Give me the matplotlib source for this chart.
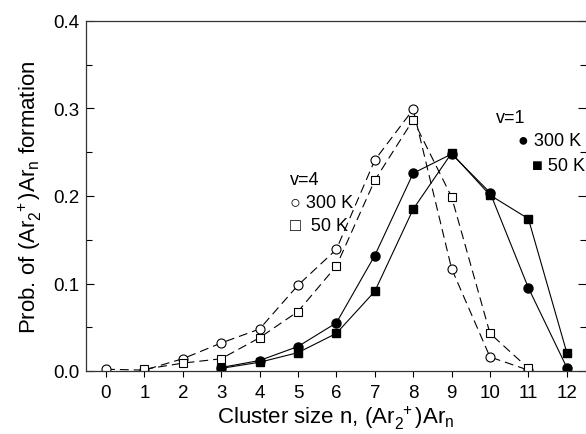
import matplotlib
matplotlib.use('Agg')
from matplotlib import pyplot as plt
from matplotlib.ticker import MultipleLocator

plt.rcParams['font.family'] = ['Liberation Sans', 'DejaVu Sans']
plt.rcParams['mathtext.fontset'] = 'custom'
plt.rcParams['mathtext.rm'] = 'Liberation Sans'

# v=4, 300 K (open circles)
n_v4_300 = [0, 1, 2, 3, 4, 5, 6, 7, 8, 9, 10, 11]
p_v4_300 = [0.002, 0.001, 0.014, 0.032, 0.048, 0.098, 0.139, 0.241, 0.299, 0.117, 0.016, 0.001]
# v=4, 50 K (open squares)
n_v4_50 = [1, 2, 3, 4, 5, 6, 7, 8, 9, 10, 11]
p_v4_50 = [0.002, 0.009, 0.014, 0.038, 0.068, 0.120, 0.218, 0.287, 0.199, 0.043, 0.003]
# v=1, 300 K (filled circles)
n_v1_300 = [3, 4, 5, 6, 7, 8, 9, 10, 11, 12]
p_v1_300 = [0.004, 0.012, 0.028, 0.055, 0.132, 0.226, 0.248, 0.204, 0.095, 0.004]
# v=1, 50 K (filled squares)
n_v1_50 = [3, 4, 5, 6, 7, 8, 9, 10, 11, 12]
p_v1_50 = [0.003, 0.010, 0.021, 0.043, 0.091, 0.185, 0.249, 0.201, 0.174, 0.021]

fig = plt.figure(figsize=(5.86, 4.35), dpi=100)
ax = fig.add_axes([86/586, 1-372/435, 1-86/586, (372-22)/435])

dash = (0, (8, 4.5))
ax.plot(n_v4_300, p_v4_300, color='k', lw=0.8, ls=dash, marker='o', ms=6.5,
        mfc='white', mec='k', mew=0.8)
ax.plot(n_v4_50, p_v4_50, color='k', lw=0.8, ls=dash, marker='s', ms=6,
        mfc='white', mec='k', mew=0.8)
ax.plot(n_v1_300, p_v1_300, color='k', lw=0.8, marker='o', ms=6.5, mfc='k', mec='k')
ax.plot(n_v1_50, p_v1_50, color='k', lw=0.8, marker='s', ms=6, mfc='k', mec='k')

ax.set_xlim(-0.52, 12.5)
ax.set_ylim(0, 0.4)
ax.set_xticks(range(0, 13))
ax.yaxis.set_major_locator(MultipleLocator(0.1))
ax.yaxis.set_minor_locator(MultipleLocator(0.05))
ax.yaxis.set_major_formatter(matplotlib.ticker.FormatStrFormatter('%.1f'))
ax.spines['right'].set_visible(False)
for s in ['left', 'top', 'bottom']:
    ax.spines[s].set_linewidth(0.9)
    ax.spines[s].set_color('#333333')
ax.tick_params(axis='y', which='both', direction='in', left=True, right=True,
               labelsize=13.5, width=0.8, pad=5)
ax.tick_params(axis='y', which='major', length=6)
ax.tick_params(axis='y', which='minor', length=4)
ax.tick_params(axis='x', direction='out', length=4, width=0.8, labelsize=13.5, pad=5)

ax.set_xlabel(r'Cluster size n, $\mathregular{(Ar_2^{\ +})Ar_n}$', fontsize=16, labelpad=2)
ax.set_ylabel(r'Prob. of $\mathregular{(Ar_2^{\ +})Ar_n}$ formation', fontsize=16, labelpad=6)

fs = 13
ax.text(5.18, 0.219, 'v=4', fontsize=fs, ha='center', va='center')
ax.text(4.78, 0.193, '\u25cb 300 K', fontsize=fs, ha='left', va='center')
ax.text(4.78, 0.166, '\u25a1  50 K', fontsize=fs, ha='left', va='center')
ax.text(10.55, 0.290, 'v=1', fontsize=fs, ha='center', va='center')
ax.text(10.74, 0.263, '\u25cf 300 K', fontsize=fs, ha='left', va='center')
ax.text(11.10, 0.235, '\u25a0 50 K', fontsize=fs, ha='left', va='center')

fig.savefig('out.png', dpi=100)
